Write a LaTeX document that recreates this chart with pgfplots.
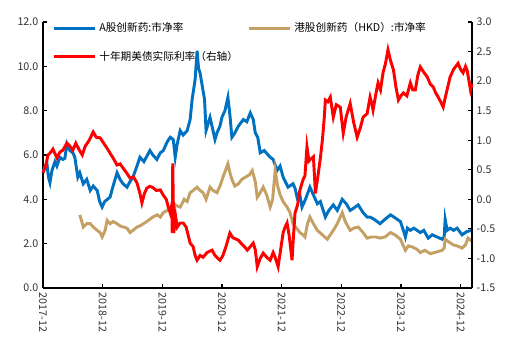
\documentclass[border=0pt]{standalone}
\usepackage{fontspec}
\setmainfont{Noto Sans CJK SC}
\usepackage{pgfplots}
\pgfplotsset{compat=1.18}
\definecolor{cblue}{RGB}{0,112,192}
\definecolor{ctan}{RGB}{196,160,100}
\definecolor{cred}{RGB}{255,0,0}
\definecolor{ticktxt}{RGB}{50,50,50}
\begin{document}
\begin{tikzpicture}
\pgfplotsset{
  every axis/.append style={
    scale only axis, width=321.75pt, height=199.5pt,
    xmin=0, xmax=86.3,
    tick style={black, line width=0.9pt}, major tick length=3pt,
    ticklabel style={font=\fontsize{8}{9}\selectfont, text=ticktxt},
    /pgf/number format/assume math mode=true,
    axis line style={-, line width=1.3pt},
    clip=false,
  }
}
\begin{axis}[
  axis x line*=bottom, axis y line*=left,
  ymin=0, ymax=12, ytick={0,2,...,12},
  yticklabel style={/pgf/number format/.cd, fixed, fixed zerofill, precision=1},
  xtick={0,12,24,36,48,60,72,84},
  xticklabels={2017-12,2018-12,2019-12,2020-12,2021-12,2022-12,2023-12,2024-12},
  xticklabel style={rotate=-90, anchor=west},
  legend style={draw=none, fill=none, at={(0.012,1.018)}, anchor=north west,
    font=\fontsize{8}{9}\selectfont, row sep=9pt,
    /tikz/every even column/.append style={column sep=5pt}},
  legend cell align=left,
  legend columns=2,
  legend image code/.code={\draw[#1] (0pt,0pt) -- (31pt,0pt);},
]
\addplot[cblue, line width=2.2pt] coordinates {
(0,5.2)(0.4,5.5)(0.8,5.6)(1.1,5.0)(1.4,4.75)(1.8,5.3)(2.4,5.7)(2.8,5.5)(3.4,5.9)(4.0,5.8)(4.4,5.85)(4.8,6.5)(5.4,6.2)(6.0,6.1)(6.4,5.9)(7.0,5.0)(7.4,5.2)(8.1,4.7)(8.8,4.9)(9.5,4.4)(10.1,4.6)(10.9,4.4)(11.4,3.9)(11.9,3.65)(12.4,3.9)(13.5,4.1)(14.1,4.6)(14.9,5.2)(15.5,4.9)(16.1,4.7)(16.9,4.55)(17.5,4.8)(18.1,5.0)(18.9,5.5)(19.5,5.9)(20.3,5.7)(21.5,6.2)(22.1,6.0)(22.9,5.8)(23.6,6.1)(24.2,6.2)(25.0,6.6)(25.6,6.8)(26.2,6.7)(26.6,5.9)(27.0,6.5)(27.6,7.1)(28.2,6.9)(29.0,7.1)(29.6,7.6)(30.0,8.5)(30.6,9.4)(31.0,10.7)(31.3,9.9)(31.6,9.7)(32.2,8.9)(32.5,8.5)(32.8,7.1)(33.6,7.7)(34.0,7.3)(34.6,6.7)(35.0,7.0)(35.6,7.3)(36.0,7.7)(36.6,8.0)(37.2,8.6)(37.6,7.8)(38.0,6.8)(38.6,7.0)(39.3,7.3)(40.3,7.6)(41.0,7.5)(41.7,7.9)(42.3,7.6)(42.7,7.0)(43.2,6.8)(43.7,6.1)(44.5,6.2)(45.7,5.9)(46.3,5.8)(47.1,5.3)(47.7,5.5)(48.3,5.0)(49.3,4.55)(50.3,4.7)(50.7,4.5)(51.1,4.1)(51.6,4.3)(52.1,3.65)(52.8,4.0)(53.7,4.55)(54.4,4.2)(55.2,3.8)(55.8,3.9)(56.8,3.2)(57.5,3.5)(58.4,3.75)(59.2,3.5)(60.2,4.0)(61.0,3.8)(61.8,3.5)(62.5,3.6)(63.4,3.75)(64.4,3.4)(65.2,3.2)(65.8,3.2)(66.6,3.1)(67.8,2.9)(68.8,3.1)(69.9,3.3)(70.6,3.2)(71.9,3.0)(72.5,2.6)(72.9,2.3)(73.3,2.7)(73.9,2.6)(74.6,2.7)(75.9,2.5)(76.6,2.6)(77.5,2.25)(78.3,2.4)(79.3,2.3)(80.3,2.2)(80.7,2.3)(80.9,3.1)(81.3,2.6)(81.9,2.7)(82.6,2.6)(83.3,2.7)(84.3,2.4)(85.3,2.55)(86.3,2.6)
};
\addlegendentry{A股创新药:市净率}
\addplot[ctan, line width=2.2pt] coordinates {
(7.4,3.3)(7.8,3.0)(8.1,2.75)(8.8,2.9)(9.5,2.9)(10.1,2.75)(10.9,2.6)(11.5,2.5)(11.9,2.3)(12.5,2.6)(12.9,3.05)(13.5,2.9)(14.1,3.0)(14.9,2.9)(15.5,2.8)(16.9,2.7)(17.5,2.5)(18.1,2.6)(18.9,2.75)(19.5,2.8)(20.9,3.0)(21.5,3.1)(22.1,3.2)(23.0,3.3)(23.6,3.2)(24.2,3.4)(25.0,3.5)(25.6,3.6)(26.2,3.8)(27.0,3.7)(27.6,3.65)(28.4,4.0)(29.0,3.9)(29.6,4.3)(30.2,4.4)(31.0,4.55)(31.6,4.4)(32.2,4.3)(32.8,4.0)(33.6,4.55)(34.2,4.4)(35.0,4.3)(35.6,4.6)(36.2,5.0)(37.2,5.6)(37.6,5.2)(38.0,4.9)(38.6,4.6)(39.3,4.7)(40.0,4.9)(40.7,5.0)(41.5,5.1)(42.1,5.3)(42.7,4.8)(43.1,4.1)(43.7,4.3)(44.3,4.55)(45.0,4.2)(45.7,3.65)(46.2,4.0)(46.7,5.3)(47.2,4.6)(47.7,4.2)(48.3,3.9)(49.1,3.65)(49.7,3.4)(50.3,2.9)(51.0,2.7)(51.7,2.5)(52.3,2.4)(52.7,2.3)(53.2,2.9)(53.7,3.2)(54.4,2.9)(55.2,2.6)(56.2,2.4)(57.2,2.2)(57.8,2.4)(58.4,2.6)(59.2,2.9)(59.8,3.2)(60.2,3.4)(60.8,3.0)(61.8,2.6)(62.5,2.7)(63.4,2.75)(64.4,2.5)(65.2,2.25)(66.0,2.3)(67.0,2.3)(67.8,2.25)(68.8,2.3)(69.9,2.5)(70.8,2.4)(71.9,2.2)(72.5,1.9)(72.9,1.7)(73.5,1.9)(74.3,1.85)(75.2,1.75)(75.9,1.6)(76.8,1.7)(77.9,1.55)(78.8,1.6)(79.5,1.65)(80.3,1.7)(80.7,1.8)(80.9,2.2)(81.5,2.1)(82.5,1.95)(83.3,1.9)(84.3,1.8)(85.0,1.95)(85.5,2.25)(86.3,2.1)
};
\addlegendentry{港股创新药（HKD）:市净率}
\addlegendimage{cred, line width=2.2pt}
\addlegendentry{十年期美债实际利率（右轴）}
\end{axis}
\begin{axis}[
  axis x line=none, axis y line*=right,
  ymin=-1.5, ymax=3.0, ytick={-1.5,-1,...,3},
  yticklabel style={/pgf/number format/.cd, fixed, fixed zerofill, precision=1},
]
\addplot[cred, line width=2.2pt] coordinates {
(0,0.45)(0.5,0.55)(1.0,0.75)(1.4,0.78)(2.0,0.85)(2.8,0.7)(3.4,0.8)(4.0,0.83)(4.8,0.95)(5.4,0.9)(6.0,0.83)(6.6,0.95)(7.2,0.85)(7.9,0.75)(8.5,0.9)(9.3,1.0)(10.1,1.14)(10.7,1.05)(11.5,1.04)(12.2,0.95)(13.0,0.85)(13.5,0.78)(14.1,0.7)(14.9,0.58)(15.5,0.6)(16.1,0.53)(16.8,0.45)(17.5,0.36)(18.2,0.38)(18.9,0.28)(19.5,0.1)(19.9,-0.06)(20.4,0.1)(20.9,0.19)(21.5,0.22)(22.1,0.2)(22.8,0.15)(23.6,0.16)(24.2,0.07)(24.8,0.0)(25.2,-0.13)(25.6,-0.23)(25.9,-0.1)(26.0,-0.57)(26.1,0.61)(26.3,-0.57)(26.7,-0.3)(27.0,-0.47)(27.6,-0.4)(28.2,-0.4)(28.8,-0.47)(29.6,-0.74)(30.2,-0.8)(30.6,-0.95)(31.0,-1.03)(31.6,-0.95)(32.2,-0.98)(33.0,-0.9)(34.0,-0.86)(34.6,-0.95)(35.2,-1.0)(35.6,-1.03)(36.2,-0.95)(36.8,-0.8)(37.6,-0.57)(38.2,-0.65)(39.3,-0.69)(39.9,-0.75)(40.5,-0.8)(41.1,-0.86)(41.7,-0.8)(42.3,-0.74)(42.7,-0.85)(43.1,-1.14)(43.7,-1.0)(44.3,-0.91)(45.0,-0.98)(45.7,-1.03)(46.3,-0.9)(46.7,-0.98)(47.3,-1.14)(47.7,-0.91)(48.3,-0.57)(48.7,-0.47)(49.1,-0.4)(49.5,-0.6)(50.1,-1.03)(50.4,-0.6)(50.7,-0.23)(51.2,-0.1)(51.7,0.16)(52.3,0.33)(52.7,0.4)(53.1,0.89)(53.5,0.65)(53.7,0.67)(54.4,0.72)(54.8,0.1)(55.4,0.45)(55.8,0.7)(56.2,1.0)(56.6,1.4)(56.8,1.68)(57.3,1.65)(57.8,1.73)(58.4,1.39)(59.0,1.6)(59.8,1.56)(60.4,1.12)(61.0,1.4)(61.8,1.62)(62.5,1.3)(63.2,1.05)(63.8,1.2)(64.4,1.39)(65.2,1.45)(65.8,1.73)(66.2,1.6)(66.4,1.51)(67.0,1.8)(67.4,1.97)(67.9,1.85)(68.4,2.14)(68.9,2.3)(69.4,2.53)(69.9,2.35)(70.5,2.19)(71.0,1.9)(71.5,1.68)(72.0,1.75)(72.5,1.8)(73.2,1.75)(73.9,1.97)(74.4,1.85)(74.9,1.85)(75.4,2.1)(75.9,2.24)(76.6,2.15)(77.3,2.07)(77.9,1.95)(78.5,1.9)(79.0,1.8)(79.5,1.73)(80.0,1.65)(80.5,1.56)(81.0,1.75)(81.9,2.07)(82.6,2.2)(83.5,2.3)(84.0,2.2)(84.5,2.14)(85.0,2.25)(85.3,2.19)(85.7,2.0)(86.0,1.85)(86.3,1.95)
};
\end{axis}
\pgfresetboundingbox
\path[use as bounding box] (-32.25pt,-51pt) rectangle (353.25pt,216pt);
\end{tikzpicture}
\end{document}
